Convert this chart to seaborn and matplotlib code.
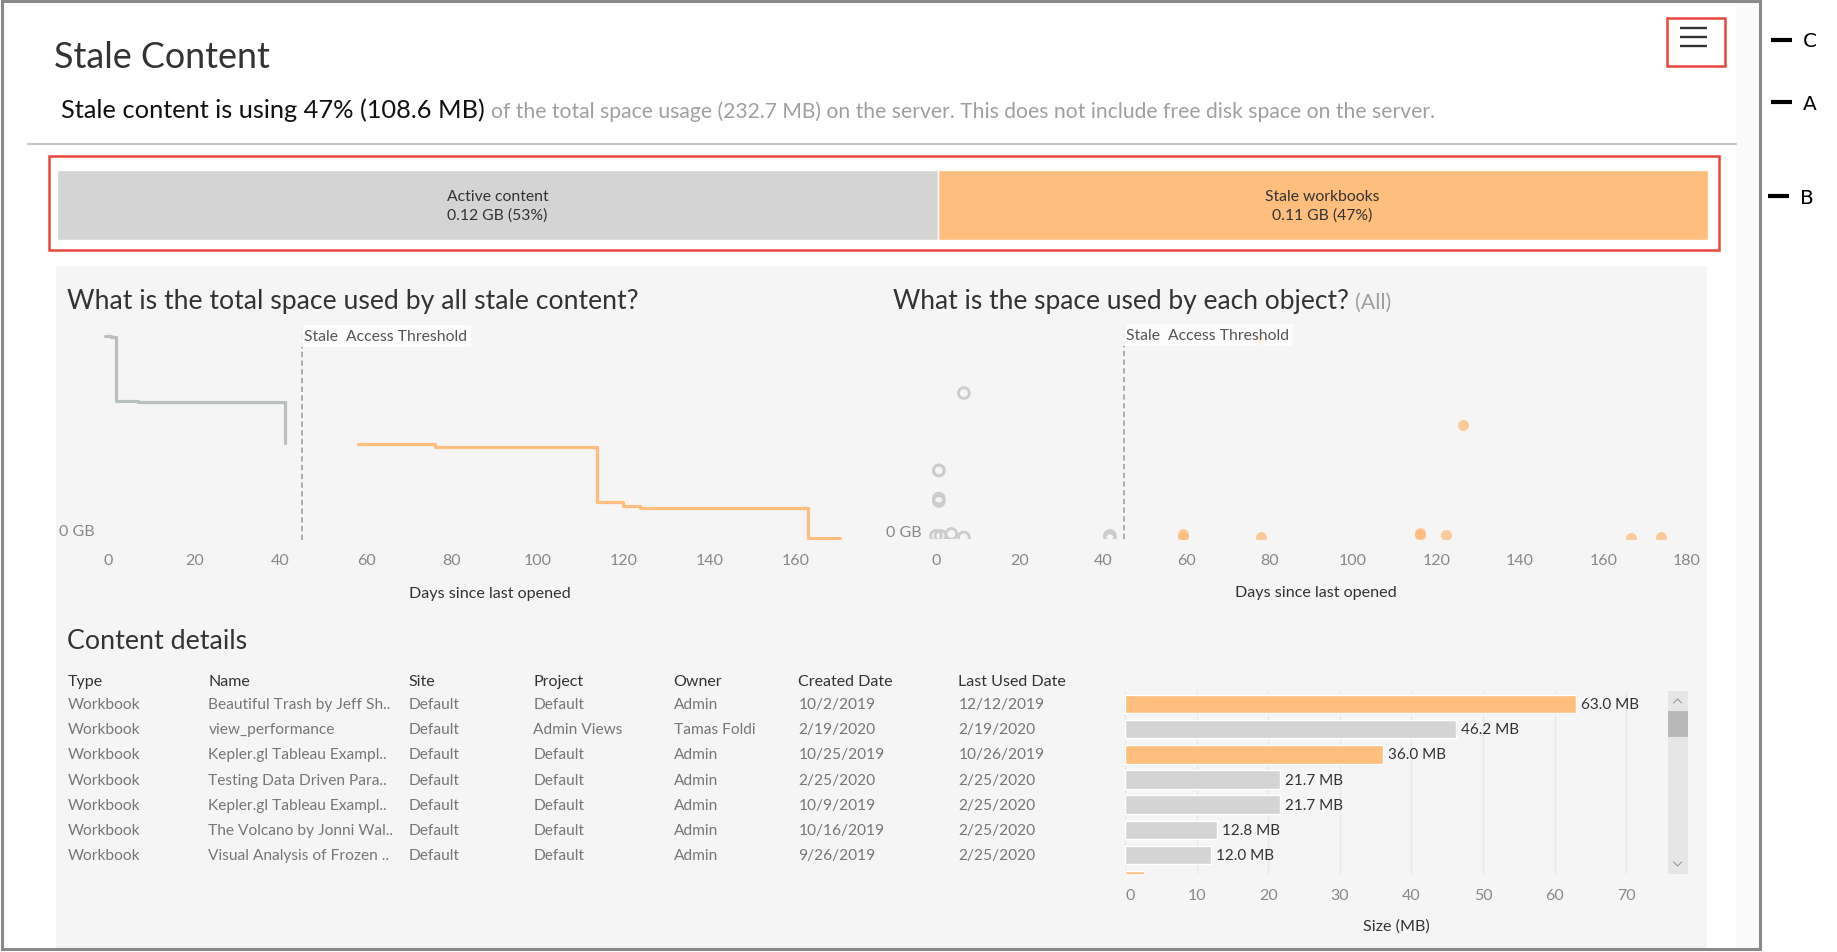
import pandas as pd
import seaborn as sns
import matplotlib.pyplot as plt
from matplotlib.patches import Rectangle

# ---- values ----
total_mb = 232.7
stale_mb = 108.6
active_mb = round(total_mb - stale_mb, 1)
summary_text = ['Active content\n0.12 GB (53%)', 'Stale workbooks\n0.11 GB (47%)']

# total space (MB) still used, by days since last opened
active_days = [-0.9, 0.6, 1.7, 6.8, 41.1]
active_space = [232.7, 231.0, 158.0, 156.2, 109.5]
stale_days = [58.1, 76.1, 113.7, 119.8, 123.9, 163.0, 170.4]
stale_space = [108.6, 105.2, 41.3, 37.4, 35.1, 0.0, 0.0]
threshold_days = 45

# size of each object (MB) vs days since last opened
active_obj_days = [6.7, 0.7, 0.7, 0.7, 0.7, 0.0, 1.1, 3.7, 6.7, 41.7, 41.7]
active_obj_mb = [46.2, 21.7, 21.7, 12.8, 12.0, 1.0, 1.0, 1.6, 0.5, 1.0, 0.2]
stale_obj_days = [77.7, 126.3, 59.3, 59.3, 77.9, 116.0, 116.0, 122.2, 166.5, 173.7]
stale_obj_mb = [63.0, 36.0, 1.6, 0.5, 0.6, 1.8, 1.2, 1.4, 0.3, 0.5]

# content details table
columns = ['Type', 'Name', 'Site', 'Project', 'Owner', 'Created Date', 'Last Used Date']
types = ['Workbook'] * 8
names = ['Beautiful Trash by Jeff Sh..', 'view_performance', 'Kepler.gl Tableau Exampl..',
         'Testing Data Driven Para..', 'Kepler.gl Tableau Exampl..', 'The Volcano by Jonni Wal..',
         'Visual Analysis of Frozen ..', 'Sun Swallow by Jonni ..']
sites = ['Default'] * 8
projects = ['Default', 'Admin Views', 'Default', 'Default', 'Default', 'Default', 'Default', 'Default']
owners = ['Admin', 'Tamas Foldi', 'Admin', 'Admin', 'Admin', 'Admin', 'Admin', 'Tamas Foldi']
created = ['10/2/2019', '2/19/2020', '10/25/2019', '2/25/2020', '10/9/2019', '10/16/2019',
           '9/26/2019', '10/10/2019']
last_used = ['12/12/2019', '2/19/2020', '10/26/2019', '2/25/2020', '2/25/2020', '2/25/2020',
             '2/25/2020', '11/5/2019']
sizes = [63.0, 46.2, 36.0, 21.7, 21.7, 12.8, 12.0, 2.6]
status = ['Stale', 'Active', 'Stale', 'Active', 'Active', 'Active', 'Active', 'Stale']

ORANGE = '#ffbe7d'
GREY = '#d4d4d4'
LINE_GREY = '#babfbf'
RING = '#cccccc'
DARK = '#333333'
MUTED = '#888888'
RED = '#e8473b'
BODY = 11.2

W, H = 1837, 953
sns.set_theme(style='white')
plt.rcParams['font.family'] = ['Lato', 'DejaVu Sans']

fig = plt.figure(figsize=(W / 100, H / 100), dpi=100)
renderer = fig.canvas.get_renderer()


def px_axes(x0, y0, x1, y1):
    # axes placed by pixel box (top-left origin)
    ax = fig.add_axes([x0 / W, 1 - y1 / H, (x1 - x0) / W, (y1 - y0) / H])
    ax.set_facecolor('none')
    return ax


# background layer in pixel coordinates
bg = px_axes(0, 0, W, H)
bg.set_xlim(0, W)
bg.set_ylim(H, 0)
bg.axis('off')

bg.add_patch(Rectangle((1736, 2), 23, 947, fc='#fafafa', ec='none'))
bg.add_patch(Rectangle((56, 267), 1651, 683, fc='#f5f5f5', ec='none'))
bg.add_patch(Rectangle((1.5, 1.5), 1758.5, 948, fill=False, ec='#8a8a8a', lw=2.2))

bg.text(54, 67.5, 'Stale Content', fontsize=25.8, color=DARK, va='baseline')

# hamburger menu
bg.add_patch(Rectangle((1667, 18.5), 58, 48.3, fill=False, ec=RED, lw=1.8))
for yy in [29.3, 38.3, 47.3]:
    bg.plot([1680, 1707], [yy, yy], color=DARK, lw=1.7, solid_capstyle='butt')

# callout markers outside the frame
for yy, letter, x0 in [(40.7, 'C', 1771), (103.3, 'A', 1771), (197.3, 'B', 1768)]:
    bg.plot([x0, x0 + 21], [yy, yy], color='black', lw=3, solid_capstyle='butt')
    bg.text(x0 + 32, yy + 1, letter, fontsize=14.5, color='black', va='center',
            family='DejaVu Sans')

t1 = bg.text(61, 118.5, 'Stale content is using 47% (108.6 MB)', fontsize=18.3,
             color='#111111', va='baseline')
x_end = t1.get_window_extent(renderer).x1
bg.text(x_end + 6, 118.5,
        'of the total space usage (232.7 MB) on the server. '
        'This does not include free disk space on the server.',
        fontsize=15.2, color='#a0a0a0', va='baseline')

bg.plot([28, 1736], [145, 145], color='#c4c4c4', lw=1.5)
bg.add_patch(Rectangle((49.2, 156.7), 1670, 94, fill=False, ec=RED, lw=1.8))

# ---- summary stacked bar ----
ax0 = px_axes(57.4, 171, 1707.7, 241.3)
sns.barplot(x=[total_mb], orient='h', color=ORANGE, width=1, saturation=1, ax=ax0)
sns.barplot(x=[active_mb], orient='h', color=GREY, width=1, saturation=1, ax=ax0)
ax0.axvline(active_mb, color='white', lw=1)
ax0.set_xlim(0, total_mb)
ax0.set_ylim(0.5, -0.5)
ax0.axis('off')
ax0.text(active_mb / 2, 0, summary_text[0], ha='center', va='center', fontsize=11.3,
         color=DARK, linespacing=1.4)
ax0.text(active_mb + stale_mb / 2, 0, summary_text[1], ha='center', va='center',
         fontsize=11.3, color=DARK, linespacing=1.4)

# ---- total space used by stale content ----
bg.text(67, 309, 'What is the total space used by all stale content?', fontsize=19.2,
        color=DARK, va='baseline')

line_df = pd.DataFrame({
    'days': active_days + stale_days,
    'mb': active_space + stale_space,
    'status': ['Active'] * len(active_days) + ['Stale'] * len(stale_days),
})
ax1 = px_axes(95.7, 326, 846.8, 540.6)
sns.lineplot(data=line_df, x='days', y='mb', hue='status',
             palette={'Active': LINE_GREY, 'Stale': ORANGE}, drawstyle='steps-post',
             estimator=None, sort=False, lw=2.3, legend=False, ax=ax1)
ax1.set_xlim(-3, 172)
ax1.set_ylim(-1.5, 245)

# ---- space used by each object ----
t2 = bg.text(893, 309, 'What is the space used by each object?', fontsize=19,
             color=DARK, va='baseline')
x_end = t2.get_window_extent(renderer).x1
bg.text(x_end + 6, 309, '(All)', fontsize=15.5, color='#a0a0a0', va='baseline')

ax2 = px_axes(925.5, 325.2, 1699.4, 540)
sns.scatterplot(x=active_obj_days, y=active_obj_mb, color='none', edgecolor=RING,
                linewidth=2, s=60, ax=ax2, zorder=3)
sns.scatterplot(x=stale_obj_days, y=stale_obj_mb, color='#ffb774', alpha=0.7,
                linewidth=0, s=62, ax=ax2, zorder=3)
ax2.set_xlim(-2.5, 183)
ax2.set_ylim(0, 68)

for ax, ticks, pad_y, lab_x in [(ax1, range(0, 161, 20), 1, 0.5246),
                                (ax2, range(0, 181, 20), 3, 0.504)]:
    ax.axvline(threshold_days, color='#9a9a9a', lw=1.1, ls=(0, (3.5, 2.2)), zorder=1)
    ax.annotate('Stale  Access Threshold', xy=(threshold_days, 1),
                xycoords=('data', 'axes fraction'), xytext=(2, -3),
                textcoords='offset points', va='top', ha='left', fontsize=11.3,
                color='#555555', zorder=4,
                bbox=dict(boxstyle='square,pad=0.25', fc='white', ec='none', alpha=0.8))
    ax.set_xticks(list(ticks))
    ax.set_yticks([0])
    ax.set_yticklabels(['0 GB'], va='bottom')
    ax.tick_params(axis='x', length=0, pad=10, labelsize=11.5, labelcolor=MUTED)
    ax.tick_params(axis='y', length=0, pad=pad_y, labelsize=11.5, labelcolor=MUTED)
    ax.set_xlabel('Days since last opened', fontsize=11.6, color=DARK)
    ax.xaxis.set_label_coords(lab_x, -0.215)
    ax.set_ylabel('')
    sns.despine(ax=ax, left=True, bottom=True)

# ---- content details ----
bg.text(67, 649, 'Content details', fontsize=19.3, color=DARK, va='baseline')

row_lim = (6.765, -0.538)
col_x = [68, 208.4, 408.3, 533.2, 673.5, 798.3, 958.3]
table_cols = [types, names, sites, projects, owners, created, last_used]

ax3 = px_axes(56.2, 691.7, 1120, 875)
ax3.set_xlim(56.2, 1120)
ax3.set_ylim(*row_lim)
ax3.axis('off')
for cx, head, values in zip(col_x, columns, table_cols):
    ax3.text(cx, -0.94, head, fontsize=11.5, color=DARK, va='center')
    for i, v in enumerate(values):
        ax3.text(cx, i, v, fontsize=BODY, color='#777777', va='center', clip_on=True)

bar_df = pd.DataFrame({'row': list(range(len(sizes))), 'size': sizes, 'status': status})
ax4 = px_axes(1125.1, 691.7, 1667.8, 875)
sns.barplot(data=bar_df, x='size', y='row', hue='status', orient='h', dodge=False,
            palette={'Stale': ORANGE, 'Active': GREY}, width=0.73, saturation=1,
            legend=False, ax=ax4)
for c in ax4.containers:
    ax4.bar_label(c, fmt='%.1f MB', padding=3.5, fontsize=11, color=DARK, clip_on=True)
ax4.set_xlim(0, 75.8)
ax4.set_ylim(*row_lim)
ax4.set_xticks(list(range(0, 71, 10)))
ax4.grid(axis='x', color='#e8e8e8', lw=1)
ax4.set_axisbelow(True)
ax4.set_yticks([])
ax4.set_ylabel('')
ax4.tick_params(axis='x', length=0, pad=10, labelsize=11.5, labelcolor=MUTED)
ax4.get_xticklabels()[0].set_ha('left')
ax4.set_xlabel('Size (MB)', fontsize=11.6, color=DARK, labelpad=12)
sns.despine(ax=ax4, left=True, bottom=True)

# scrollbar
bg.add_patch(Rectangle((1667.8, 691.7), 19.7, 183.3, fc='#e6e6e6', ec='none'))
bg.add_patch(Rectangle((1667.8, 712.3), 19.7, 25.4, fc='#b8b8b8', ec='none'))
bg.plot([1673.6, 1677.6, 1681.6], [704, 700, 704], color='#999999', lw=0.8)
bg.plot([1673.6, 1677.6, 1681.6], [863, 867, 863], color='#999999', lw=0.8)

fig.savefig('out.png', dpi=100)
